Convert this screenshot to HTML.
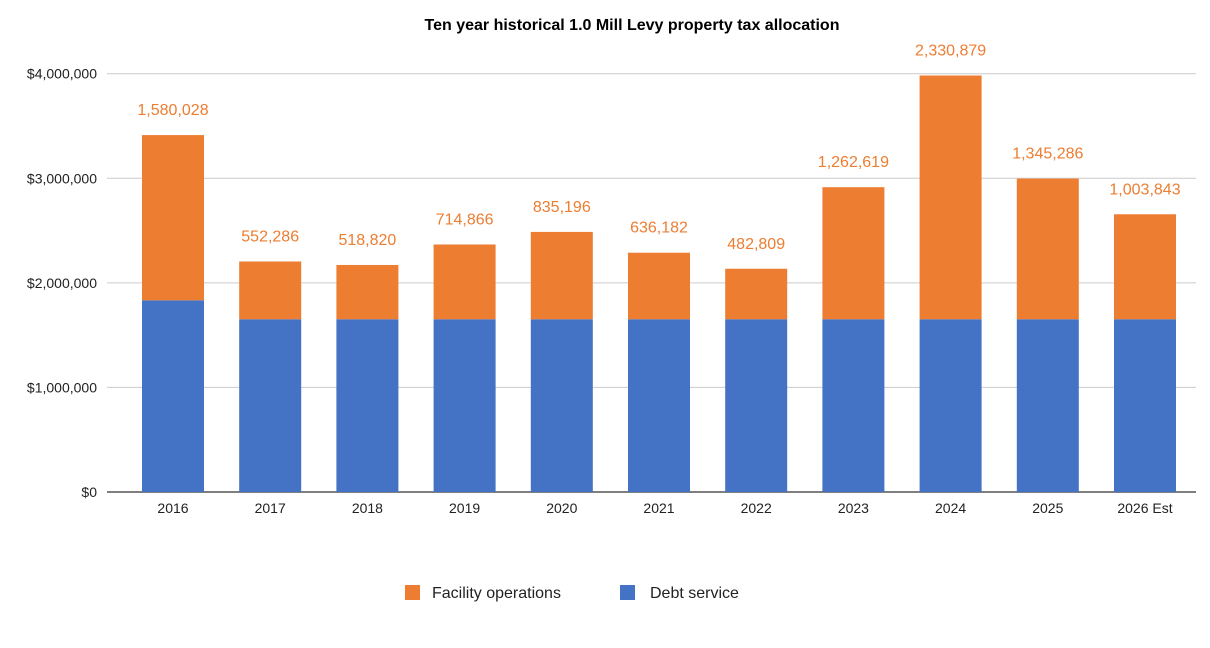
<!DOCTYPE html>
<html><head><meta charset="utf-8"><style>
body{margin:0;background:#fff;}
svg text{font-family:"Liberation Sans",sans-serif;}
</style></head><body>
<svg width="1210" height="643">
<text x="632" y="30" text-anchor="middle" font-size="16" font-weight="bold" fill="#000">Ten year historical 1.0 Mill Levy property tax allocation</text>
<g id="grid"></g><g id="bars"></g><g id="labels"></g>
<g>
<rect x="405" y="585" width="15" height="15" fill="#ED7D31"/>
<text x="432" y="598" font-size="16" fill="#222">Facility operations</text>
<rect x="620" y="585" width="15" height="15" fill="#4472C4"/>
<text x="650" y="598" font-size="16" fill="#222">Debt service</text>
</g>
</svg>
<script>
const categories=["2016","2017","2018","2019","2020","2021","2022","2023","2024","2025","2026 Est"];
const debtService=[1833000,1652000,1652000,1652000,1652000,1652000,1652000,1652000,1652000,1652000,1652000];
const facilityOps=[1580028,552286,518820,714866,835196,636182,482809,1262619,2330879,1345286,1003843];
const facilityLabels=["1,580,028","552,286","518,820","714,866","835,196","636,182","482,809","1,262,619","2,330,879","1,345,286","1,003,843"];
const yTicks=[0,1000000,2000000,3000000,4000000];
const yTickLabels=["$0","$1,000,000","$2,000,000","$3,000,000","$4,000,000"];
const NS="http://www.w3.org/2000/svg";
const y0=492,y1=73.7,x0=107,x1=1196,step=97.2,first=173,bw=62;
const y=v=>y0-(v/4000000)*(y0-y1);
const x=i=>first+i*step;
function mk(t,a,p){const e=document.createElementNS(NS,t);for(const k in a)e.setAttribute(k,a[k]);p.appendChild(e);return e;}
const grid=document.getElementById('grid'),bars=document.getElementById('bars'),labels=document.getElementById('labels');
yTicks.forEach((v,i)=>{
 const l=mk('line',{x1:x0,x2:x1,y1:y(v),y2:y(v),stroke:i==0?'#333':'#ccc','stroke-width':i==0?1.3:1},grid);
 
 
 const t=mk('text',{x:97,y:y(v)+5,'text-anchor':'end','font-size':14,fill:'#222'},grid);t.textContent=yTickLabels[i];
 
 
});
categories.forEach((c,i)=>{
 const d=mk('rect',{x:x(i)-bw/2,y:y(debtService[i]),width:bw,height:y0-y(debtService[i]),fill:'#4472C4'},bars);
 
 
 const tot=debtService[i]+facilityOps[i];
 const f=mk('rect',{x:x(i)-bw/2,y:y(tot),width:bw,height:y(debtService[i])-y(tot),fill:'#ED7D31'},bars);
 
 
 const lb=mk('text',{x:x(i),y:y(tot)-20,'text-anchor':'middle','font-size':16,fill:'#ED7D31'},labels);lb.textContent=facilityLabels[i];
 
 
 const xl=mk('text',{x:x(i),y:513,'text-anchor':'middle','font-size':14,fill:'#222'},labels);xl.textContent=c;
 
 
});
</script>
</body></html>
